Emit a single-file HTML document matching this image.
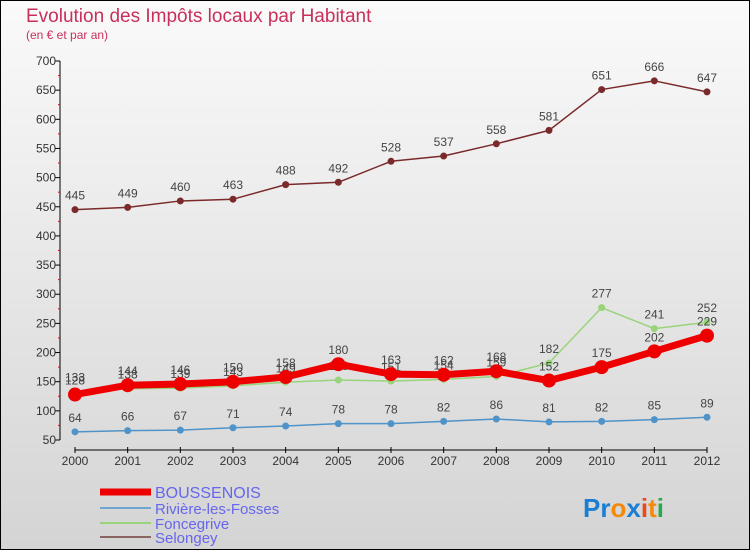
<!DOCTYPE html>
<html><head><meta charset="utf-8"><style>
body{margin:0;width:750px;height:550px;overflow:hidden;font-family:"Liberation Sans",sans-serif}
svg{display:block}
</style></head><body>
<svg width="750" height="550" xmlns="http://www.w3.org/2000/svg">
<defs><linearGradient id="bg" x1="0" y1="0" x2="0" y2="1"><stop offset="0" stop-color="#fafafa"/><stop offset="1" stop-color="#d4d4d4"/></linearGradient></defs>
<rect x="0.5" y="0.5" width="749" height="549" fill="url(#bg)" stroke="#000"/>
<text x="26" y="22" font-size="19" fill="#c8305a">Evolution des Impôts locaux par Habitant</text>
<text x="26" y="39" font-size="12" fill="#c8305a">(en € et par an)</text>
<g id="axes"></g><g id="series"></g>
<g>
<line x1="100" y1="492" x2="151" y2="492" stroke="#ee0000" stroke-width="7"/>
<text x="155" y="498" font-size="16" fill="#6666ee">BOUSSENOIS</text>
<line x1="100" y1="508" x2="151" y2="508" stroke="#6fa5d0" stroke-width="2"/>
<text x="155" y="514" font-size="15" fill="#6666ee">Rivière-les-Fosses</text>
<line x1="100" y1="523" x2="151" y2="523" stroke="#99d47a" stroke-width="2"/>
<text x="155" y="529" font-size="15" fill="#6666ee">Foncegrive</text>
<line x1="100" y1="537" x2="151" y2="537" stroke="#8c6464" stroke-width="2"/>
<text x="155" y="543" font-size="15" fill="#6666ee">Selongey</text>
</g>
<g font-size="26" font-weight="bold">
<text x="583" y="517"><tspan fill="#1a7fd4">Pr</tspan><tspan fill="#f58a0a">o</tspan><tspan fill="#1a7fd4">x</tspan><tspan fill="#e84a1a">i</tspan><tspan fill="#f58a0a">t</tspan><tspan fill="#2aa84a">i</tspan></text>
</g>
</svg>
<script>
const years=[2000,2001,2002,2003,2004,2005,2006,2007,2008,2009,2010,2011,2012];
const yTicks=[50,100,150,200,250,300,350,400,450,500,550,600,650,700];
const boussenois=[128,144,146,150,158,180,163,162,168,152,175,202,229];
const riviere=[64,66,67,71,74,78,78,82,86,81,82,85,89];
const foncegrive=[133,138,139,143,149,153,151,154,159,182,277,241,252];
const selongey=[445,449,460,463,488,492,528,537,558,581,651,666,647];
const NS="http://www.w3.org/2000/svg";
const xS=i=>75+i*(707-75)/(years.length-1);
const yS=v=>440-(v-50)*(440-61)/650;
function mk(t,a,p){const e=document.createElementNS(NS,t);for(const k in a)e.setAttribute(k,a[k]);p.appendChild(e);return e;}
const ax=document.getElementById('axes');
let yl=mk('line',{x1:60,y1:61,x2:60,y2:440,stroke:'#000'},ax);


yTicks.forEach(v=>{
 const y=yS(v);
 let t=mk('line',{x1:55,y1:y,x2:60,y2:y,stroke:'#000'},ax);
 
 
 if(v<700){let r=mk('line',{x1:58,y1:y-14.6,x2:60,y2:y-14.6,stroke:'#e00'},ax);
 
 }
 let l=mk('text',{x:56,y:y+4,'font-size':12,fill:'#333','text-anchor':'end'},ax);l.textContent=v;
 
 
});
let xl=mk('line',{x1:75,y1:450,x2:707,y2:450,stroke:'#000'},ax);


years.forEach((yr,i)=>{
 const x=xS(i);
 let t=mk('line',{x1:x,y1:447,x2:x,y2:453,stroke:'#000'},ax);
 
 
 let l=mk('text',{x:x,y:465,'font-size':12,fill:'#333','text-anchor':'middle'},ax);l.textContent=yr;
 
 
});
const sg=document.getElementById('series');
function series(name,data,color,w,r){
 const g=mk('g',{},sg);
 
 
 let pl=mk('polyline',{points:data.map((v,i)=>xS(i)+','+yS(v)).join(' '),fill:'none',stroke:color,'stroke-width':w,'stroke-linejoin':'round'},g);
 
 
 data.forEach((v,i)=>{
  let c=mk('circle',{cx:xS(i),cy:yS(v),r:r,fill:color},g);
  
  
  let t=mk('text',{x:xS(i),y:yS(v)-10,'font-size':12,fill:'#444','text-anchor':'middle'},g);t.textContent=v;
  
  
 });
}
series('selongey',selongey,'#7a2a2a',1.5,3.5);
series('riviere',riviere,'#4f93c8',1.5,3.5);
series('foncegrive',foncegrive,'#99d47a',1.5,3.5);
series('boussenois',boussenois,'#ee0000',7,7);
</script>
</body></html>
